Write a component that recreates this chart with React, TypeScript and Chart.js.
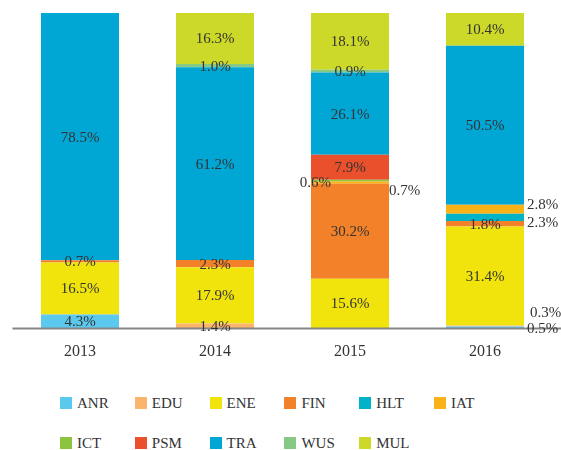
import React, { useEffect, useRef } from "react";
import { Chart, registerables } from "chart.js";

Chart.register(...registerables);

const years = ["2013", "2014", "2015", "2016"];
const ANR = [4.3, null, null, 0.5];
const EDU = [null, 1.4, null, 0.3];
const ENE = [16.5, 17.9, 15.6, 31.4];
const FIN = [0.7, 2.3, 30.2, 1.8];
const HLT = [null, null, null, 2.3];
const IAT = [null, null, 0.7, 2.8];
const ICT = [null, null, 0.6, null];
const PSM = [null, null, 7.9, null];
const TRA = [78.5, 61.2, 26.1, 50.5];
const WUS = [null, 1.0, 0.9, null];
const MUL = [null, 16.3, 18.1, 10.4];

const seriesNames = ["ANR", "EDU", "ENE", "FIN", "HLT", "IAT", "ICT", "PSM", "TRA", "WUS", "MUL"];
const seriesValues = [ANR, EDU, ENE, FIN, HLT, IAT, ICT, PSM, TRA, WUS, MUL];
const seriesColors = [
  "#5BC8EE", "#FBB46B", "#F0E40C", "#F2812A", "#00B3C8", "#F9B218",
  "#8DC43F", "#E9502B", "#00A6D4", "#86C984", "#CCD928",
];

// label placement tweaks for thin segments (style only)
const labelPlacement: Record<string, { side: "left" | "right"; dx: number; dy: number }> = {
  "ICT-2": { side: "left", dx: 20, dy: 2 },
  "IAT-2": { side: "right", dx: 0, dy: 8 },
  "IAT-3": { side: "right", dx: 3, dy: -4 },
  "HLT-3": { side: "right", dx: 3, dy: 6 },
  "EDU-3": { side: "right", dx: 6, dy: -13 },
  "ANR-3": { side: "right", dx: 3, dy: 2 },
};

const FONT = "'Liberation Serif', 'DejaVu Serif', serif";
const TEXT = "#333333";

const labelPlugin = {
  id: "segLabels",
  afterDatasetsDraw(chart: any) {
    const { ctx, chartArea } = chart;
    ctx.save();
    ctx.strokeStyle = "#858585";
    ctx.lineWidth = 2;
    ctx.beginPath();
    ctx.moveTo(chartArea.left, chartArea.bottom + 0.5);
    ctx.lineTo(chart.width, chartArea.bottom + 0.5);
    ctx.stroke();

    ctx.font = `15px ${FONT}`;
    ctx.fillStyle = TEXT;
    ctx.textBaseline = "middle";
    chart.data.datasets.forEach((ds: any, di: number) => {
      const meta = chart.getDatasetMeta(di);
      meta.data.forEach((bar: any, i: number) => {
        const v = ds.data[i];
        if (v == null) return;
        const text = v.toFixed(1) + "%";
        const key = `${ds.label}-${i}`;
        const p = labelPlacement[key];
        const yc = (bar.y + bar.base) / 2;
        const half = bar.width / 2;
        if (p) {
          if (p.side === "right") {
            ctx.textAlign = "left";
            ctx.fillText(text, bar.x + half + p.dx, yc + p.dy);
          } else {
            ctx.textAlign = "right";
            ctx.fillText(text, bar.x - half + p.dx, yc + p.dy);
          }
        } else {
          ctx.textAlign = "center";
          ctx.fillText(text, bar.x, yc + 1);
        }
      });
    });
    ctx.restore();
  },
};

export default function App() {
  const ref = useRef<HTMLCanvasElement>(null);
  useEffect(() => {
    const chart = new Chart(ref.current!, {
      type: "bar",
      data: {
        labels: years,
        datasets: seriesNames.map((name, k) => ({
          label: name,
          data: seriesValues[k] as any,
          backgroundColor: seriesColors[k],
          borderWidth: 0,
          barPercentage: 0.578,
          categoryPercentage: 1,
        })),
      },
      options: {
        animation: false,
        responsive: false,
        maintainAspectRatio: false,
        layout: { padding: { left: 12.5, right: 8.5, top: 13, bottom: 0 } },
        plugins: {
          legend: { display: false },
          tooltip: { enabled: false },
        },
        scales: {
          x: {
            stacked: true,
            grid: { display: false, drawTicks: false },
            border: { display: false },
            ticks: {
              color: TEXT,
              font: { family: FONT, size: 16 },
              padding: 14,
            },
            afterFit: (scale: any) => {
              scale.height = 42;
            },
          },
          y: {
            stacked: true,
            display: false,
            min: 0,
            max: 100,
          },
        },
      },
      plugins: [labelPlugin],
    });
    return () => chart.destroy();
  }, []);

  const legendLeft = 60;
  const colW = 74.8;
  return (
    <div style={{ position: "absolute", left: 0, top: 0, width: 561, height: 450, background: "#fff" }}>
      <canvas ref={ref} width={561} height={370} style={{ display: "block", width: 561, height: 370 }} />
      {seriesNames.map((name, k) => {
        const row = Math.floor(k / 6);
        const col = k % 6;
        const cy = row === 0 ? 403 : 443;
        return (
          <div
            key={name}
            style={{
              position: "absolute",
              left: legendLeft + col * colW,
              top: cy - 10,
              height: 20,
              display: "flex",
              alignItems: "center",
              fontFamily: FONT,
              fontSize: 15,
              color: TEXT,
              whiteSpace: "nowrap",
            }}
          >
            <span style={{ display: "inline-block", width: 12, height: 12, background: seriesColors[k], marginRight: 5 }} />
            <span>{name}</span>
          </div>
        );
      })}
    </div>
  );
}
